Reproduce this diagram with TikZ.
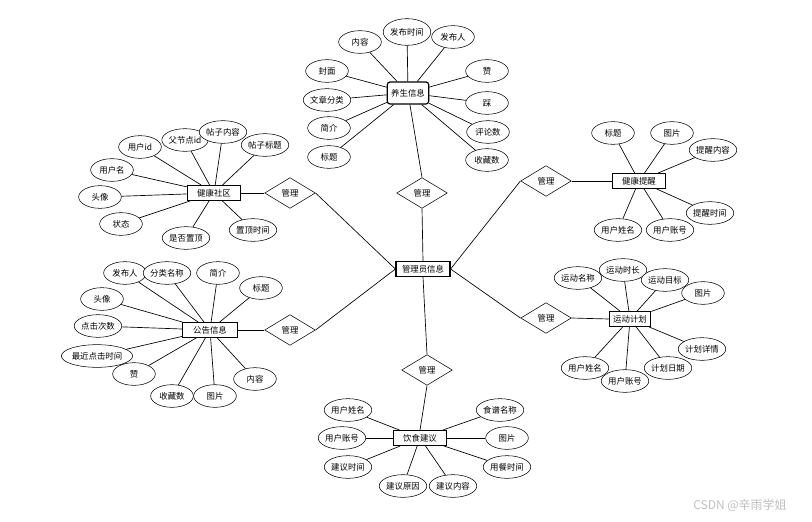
\documentclass[tikz,border=0pt]{standalone}
\usepackage{fontspec}
\setmainfont{Noto Sans CJK SC}
\usetikzlibrary{shapes.geometric}

\begin{document}
\begin{tikzpicture}[x=0.75pt,y=-0.75pt]
        \tikzstyle{entity} = [rectangle, minimum width=40pt, minimum height=11pt, inner sep=1pt, text centered, draw=black, line width=0.9pt, fill=white, font=\fontsize{6.3}{7}\selectfont]
        \tikzstyle{attr} = [ellipse, minimum width=32pt, minimum height=17pt, inner sep=0pt, draw=black, fill=white, font=\fontsize{6.3}{7}\selectfont]
        \tikzstyle{rel} = [diamond, minimum width=38pt, minimum height=23pt, inner sep=0pt, aspect=1.7, draw=black, fill=white, font=\fontsize{6.3}{7}\selectfont]
        \tikzstyle{line} = [line width=0.5pt]

                \useasboundingbox (0,0) rectangle (812,521);

                % entities
                \node (e0) [entity, minimum width=40.5pt] at (423,269) {管理员信息};
                \node (e1) [entity, minimum width=31pt, minimum height=16.5pt, rounded corners=2pt] at (408,93) {养生信息};
                \node (e2) [entity] at (214,193) {健康社区};
                \node (e3) [entity, minimum width=41pt] at (210,330) {公告信息};
                \node (e4) [entity] at (639,181) {健康提醒};
                \node (e5) [entity, minimum width=31pt] at (630,319) {运动计划};
                \node (e6) [entity] at (420,438) {饮食建议};

                % relations
                \node (r1) [rel] at (422,193) {管理};
                \node (r2) [rel] at (290,193) {管理};
                \node (r3) [rel] at (290,330) {管理};
                \node (r4) [rel] at (546,181) {管理};
                \node (r5) [rel] at (546,318) {管理};
                \node (r6) [rel] at (427,370) {管理};

                \draw[line] (e1) -- (r1.north);
                \draw[line] (r1.south) -- (e0.north);
                \draw[line] (e2.east) -- (r2.west);
                \draw[line] (r2.east) -- (e0.west);
                \draw[line] (e3.east) -- (r3.west);
                \draw[line] (r3.east) -- (e0.west);
                \draw[line] (e4.west) -- (r4.east);
                \draw[line] (r4.west) -- (e0.east);
                \draw[line] (e5.west) -- (r5.east);
                \draw[line] (r5.west) -- (e0.east);
                \draw[line] (e6.north) -- (r6.south);
                \draw[line] (r6.north) -- (e0.south);

                % 养生信息
                \node (a11) [attr] at (360,42) {内容};
                \node (a12) [attr, minimum height=20pt] at (407,32) {发布时间};
                \node (a13) [attr] at (453,37) {发布人};
                \node (a14) [attr] at (327,71) {封面};
                \node (a15) [attr] at (327,100) {文章分类};
                \node (a16) [attr] at (329,128) {简介};
                \node (a17) [attr] at (329,157) {标题};
                \node (a18) [attr] at (487,71) {赞};
                \node (a19) [attr] at (487,103) {踩};
                \node (a110) [attr] at (488,132) {评论数};
                \node (a111) [attr] at (487,160) {收藏数};

                \draw[line] (a11) -- (e1);
                \draw[line] (a12) -- (e1);
                \draw[line] (a13) -- (e1);
                \draw[line] (a14) -- (e1);
                \draw[line] (a15) -- (e1);
                \draw[line] (a16) -- (e1);
                \draw[line] (a17) -- (e1);
                \draw[line] (a18) -- (e1);
                \draw[line] (a19) -- (e1);
                \draw[line] (a110) -- (e1);
                \draw[line] (a111) -- (e1);

                % 健康社区
                \node (a21) [attr] at (140,147) {用户id};
                \node (a22) [attr] at (185,140) {父节点id};
                \node (a23) [attr] at (223,132) {帖子内容};
                \node (a24) [attr] at (265,145) {帖子标题};
                \node (a25) [attr] at (112,170) {用户名};
                \node (a26) [attr] at (100,197) {头像};
                \node (a27) [attr] at (121,224) {状态};
                \node (a28) [attr] at (186,238) {是否置顶};
                \node (a29) [attr] at (253,230) {置顶时间};

                \draw[line] (a21) -- (e2);
                \draw[line] (a22) -- (e2);
                \draw[line] (a23) -- (e2);
                \draw[line] (a24) -- (e2);
                \draw[line] (a25) -- (e2);
                \draw[line] (a26) -- (e2);
                \draw[line] (a27) -- (e2);
                \draw[line] (a28) -- (e2);
                \draw[line] (a29) -- (e2);

                % 公告信息
                \node (a31) [attr] at (125,273) {发布人};
                \node (a32) [attr] at (167,273) {分类名称};
                \node (a33) [attr] at (218,273) {简介};
                \node (a34) [attr] at (261,288) {标题};
                \node (a35) [attr] at (102,299) {头像};
                \node (a36) [attr] at (98,326) {点击次数};
                \node (a37) [attr] at (97,356) {最近点击时间};
                \node (a38) [attr] at (134,374) {赞};
                \node (a39) [attr] at (172,396) {收藏数};
                \node (a310) [attr] at (215,396) {图片};
                \node (a311) [attr] at (255,379) {内容};

                \draw[line] (a31) -- (e3);
                \draw[line] (a32) -- (e3);
                \draw[line] (a33) -- (e3);
                \draw[line] (a34) -- (e3);
                \draw[line] (a35) -- (e3);
                \draw[line] (a36) -- (e3);
                \draw[line] (a37) -- (e3);
                \draw[line] (a38) -- (e3);
                \draw[line] (a39) -- (e3);
                \draw[line] (a310) -- (e3);
                \draw[line] (a311) -- (e3);

                % 健康提醒
                \node (a41) [attr] at (613,133) {标题};
                \node (a42) [attr] at (672,133) {图片};
                \node (a43) [attr] at (713,150) {提醒内容};
                \node (a44) [attr] at (710,213) {提醒时间};
                \node (a45) [attr] at (618,230) {用户姓名};
                \node (a46) [attr] at (670,230) {用户账号};

                \draw[line] (a41) -- (e4);
                \draw[line] (a42) -- (e4);
                \draw[line] (a43) -- (e4);
                \draw[line] (a44) -- (e4);
                \draw[line] (a45) -- (e4);
                \draw[line] (a46) -- (e4);

                % 运动计划
                \node (a51) [attr] at (578,278) {运动名称};
                \node (a52) [attr] at (623,270) {运动时长};
                \node (a53) [attr] at (665,280) {运动目标};
                \node (a54) [attr] at (703,293) {图片};
                \node (a55) [attr] at (702,349) {计划详情};
                \node (a56) [attr] at (668,368) {计划日期};
                \node (a58) [attr] at (585,368) {用户姓名};
                \node (a57) [attr] at (625,381) {用户账号};

                \draw[line] (a51) -- (e5);
                \draw[line] (a52) -- (e5);
                \draw[line] (a53) -- (e5);
                \draw[line] (a54) -- (e5);
                \draw[line] (a55) -- (e5);
                \draw[line] (a56) -- (e5);
                \draw[line] (a57) -- (e5);
                \draw[line] (a58) -- (e5);

                % 饮食建议
                \node (a61) [attr] at (348,410) {用户姓名};
                \node (a62) [attr] at (342,438) {用户账号};
                \node (a63) [attr] at (348,467) {建议时间};
                \node (a64) [attr] at (403,486) {建议原因};
                \node (a65) [attr] at (453,486) {建议内容};
                \node (a66) [attr] at (500,410) {食谱名称};
                \node (a67) [attr] at (507,438) {图片};
                \node (a68) [attr] at (507,467) {用餐时间};

                \draw[line] (a61) -- (e6);
                \draw[line] (a62) -- (e6);
                \draw[line] (a63) -- (e6);
                \draw[line] (a64) -- (e6);
                \draw[line] (a65) -- (e6);
                \draw[line] (a66) -- (e6);
                \draw[line] (a67) -- (e6);
                \draw[line] (a68) -- (e6);

                \node (wm) [text=black!25, font=\fontsize{9}{10}\selectfont] at (740,505) {CSDN @辛雨学姐};

    \end{tikzpicture}
\end{document}
